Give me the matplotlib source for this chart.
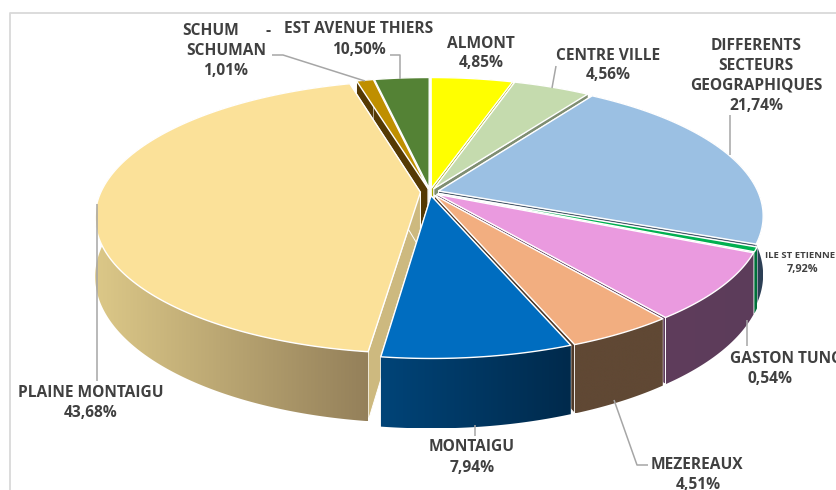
import numpy as np
import matplotlib
matplotlib.use("Agg")
import matplotlib.pyplot as plt
from matplotlib.colors import LinearSegmentedColormap
from matplotlib.patches import Polygon

# Data: slice sizes in drawing order, clockwise from 12 o'clock
categories = ["ALMONT", "CENTRE VILLE", "DIFFERENTS SECTEURS GEOGRAPHIQUES", "ILE ST ETIENNE",
              "GASTON TUNC", "MEZEREAUX", "MONTAIGU", "PLAINE MONTAIGU", "SCHUM - SCHUMAN",
              "EST AVENUE THIERS"]
values = [4.85, 4.56, 21.74, 0.54, 7.92, 4.51, 7.94, 43.68, 1.01, 3.25]
top_colors = ["#FFFF00", "#C5DBAE", "#9BC0E3", "#00B050", "#EA9ADF", "#F2AE80", "#006DC0",
              "#FBE199", "#BF8F00", "#548235"]
wall_left = ["#A8A800", "#7F8E72", "#3A5068", "#00703A", "#5F3D5C", "#604834", "#004478",
             "#DCC888", "#553A04", "#35551F"]
wall_right = ["#A8A800", "#7F8E72", "#2C3F55", "#00703A", "#5C3C5A", "#604834", "#002A4C",
              "#94805A", "#553A04", "#35551F"]
cut_colors = ["#A8A800", "#7F8E72", "#4A5A6C", "#00703A", "#5F3D5C", "#4F3A2A", "#003A66",
              "#CDB97F", "#553A04", "#35551F"]

# Layout of the drawn pie (in pixels)
CX, CY, A, B, K, H, EXPLODE = 430, 192, 319.5, 132, 0.18, 57, 0.028
PLAINE_EXTRA = 0.002

fig = plt.figure(figsize=(8.37, 4.9), dpi=100)
ax = fig.add_axes([0, 0, 1, 1])
ax.axis("off")


def project(theta, r, mid, e, z=0.0):
    u = r * np.sin(theta) + e * np.sin(mid)
    v = r * np.cos(theta) + e * np.cos(mid)
    w = 1 + K * v
    return CX + A * u / w, CY - B * v / w + H * z / w


edges = np.cumsum([0] + values) / sum(values) * 2 * np.pi
slices = []
for i in range(len(values)):
    mid = (edges[i] + edges[i + 1]) / 2
    slices.append((np.cos(mid), i, mid))
order = [s[1] for s in sorted(slices, key=lambda s: -s[0])]

for zi, i in enumerate(order):
    t0, t1 = edges[i], edges[i + 1]
    mid = (t0 + t1) / 2
    e = EXPLODE + (PLAINE_EXTRA if categories[i] == "PLAINE MONTAIGU" else 0)
    n = max(6, int((t1 - t0) / 0.01))
    th = np.linspace(t0, t1, n)
    xt, yt = project(th, 1.0, mid, e)
    xb, yb = project(th, 1.0, mid, e, 1.0)
    xc, yc = project(0.0, 0.0, mid, e)
    xcb, ycb = project(0.0, 0.0, mid, e, 1.0)
    base = 10 + zi * 3

    # radial cut faces
    for j in (0, -1):
        poly = [(xc, yc), (xt[j], yt[j]), (xb[j], yb[j]), (xcb, ycb)]
        ax.add_patch(Polygon(poly, closed=True, fc=cut_colors[i], ec="white", lw=0.7, zorder=base))

    # outer wall with a left-to-right shade, clipped to the wall outline
    wall = np.vstack([np.column_stack([xt, yt]), np.column_stack([xb, yb])[::-1]])
    clip = Polygon(wall, closed=True, fc="none", ec="none", transform=ax.transData)
    ax.add_patch(clip)
    cmap = LinearSegmentedColormap.from_list(f"w{i}", [wall_left[i], wall_right[i]])
    lo, hi = wall[:, 0].min(), wall[:, 0].max()
    im = ax.imshow(np.linspace(0, 1, 256)[None, :], cmap=cmap, aspect="auto", zorder=base + 1,
                   extent=(lo, hi, wall[:, 1].max(), wall[:, 1].min()), interpolation="bilinear")
    im.set_clip_path(clip)

    # top face
    top = np.vstack([[xc, yc], np.column_stack([xt, yt])])
    ax.add_patch(Polygon(top, closed=True, fc=top_colors[i], ec="white", lw=1.0,
                         joinstyle="round", zorder=base + 2))

LINE = "#A6A6A6"
z_line = 100
leaders = [
    ([272, 283, 365], [55, 55, 81]),
    ([390, 400, 400], [55, 55, 79]),
    ([556, 552], [66, 88]),
    ([730, 730], [115, 155]),
    ([747, 747], [320, 346]),
    ([614, 637, 648], [400, 465, 465]),
    ([475, 475], [425, 436]),
    ([97, 97], [204, 381]),
]
for xs, ys in leaders:
    ax.plot(xs, ys, color=LINE, lw=1.1, zorder=z_line, solid_capstyle="butt")

# Chart frame
ax.plot([10, 10, 837], [490, 13, 13], color="#D9D9D9", lw=1.3, zorder=1)

TXT = "#404040"
FS = 11.2
labels = [
    ("SCHUM", 211, 31, "center"), ("-", 268, 31, "center"), ("SCHUMAN", 226, 51, "center"), ("1,01%", 226, 71, "center"),
    ("EST AVENUE THIERS", 359, 29, "center"), ("10,50%", 359, 50, "center"),
    ("ALMONT", 481, 44, "center"), ("4,85%", 481, 63, "center"),
    ("CENTRE VILLE", 608, 56, "center"), ("4,56%", 608, 75, "center"),
    ("DIFFERENTS", 756, 46, "center"), ("SECTEURS", 756, 66, "center"),
    ("GEOGRAPHIQUES", 756, 86, "center"), ("21,74%", 756, 106, "center"),
    ("GASTON TUNC", 730, 359, "left"), ("0,54%", 770, 379, "center"),
    ("MEZEREAUX", 651, 465, "left"), ("4,51%", 698, 485, "center"),
    ("MONTAIGU", 472, 447, "center"), ("7,94%", 472, 468, "center"),
    ("PLAINE MONTAIGU", 91, 393, "center"), ("43,68%", 91, 413, "center"),
]
for s, x, y, ha in labels:
    ax.text(x, y, s, ha=ha, va="center", fontsize=FS, fontweight="bold", family="Open Sans",
            color=TXT, zorder=110, clip_on=False)
ax.text(765, 255, "ILE ST ETIENNE", ha="left", va="center", fontsize=6.8, fontweight="bold",
        family="Open Sans", color=TXT, zorder=110)
ax.text(803, 269, "7,92%", ha="center", va="center", fontsize=7.8, fontweight="bold",
        family="Open Sans", color=TXT, zorder=110)

ax.set_xlim(0, 837)
ax.set_ylim(490, 0)
fig.savefig("out.png", dpi=100)
